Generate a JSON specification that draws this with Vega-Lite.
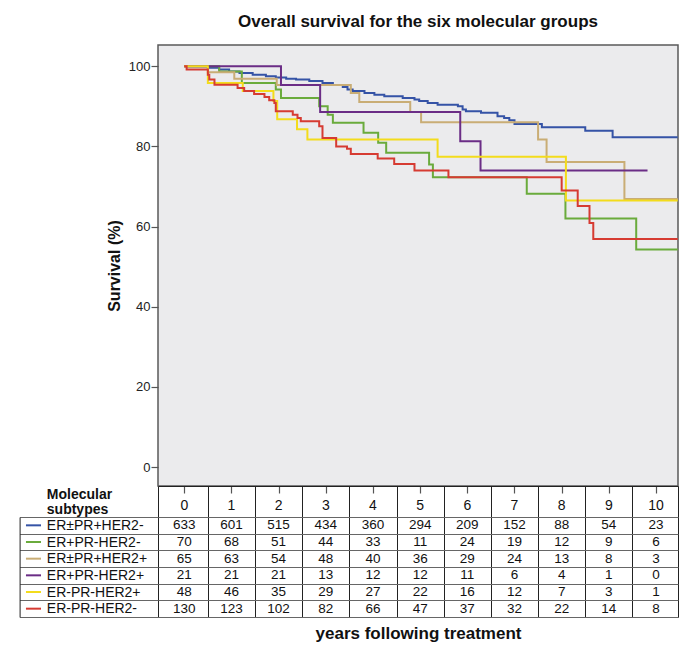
{
  "$schema": "https://vega.github.io/schema/vega-lite/v6.json",
  "padding": {"left": 18, "top": 12, "right": 9, "bottom": 0},
  "background": "white",
  "config": {
    "font": "Liberation Sans",
    "view": {"stroke": null}
  },
  "datasets": {
    "curves": [
      {"group": "ER±PR+HER2-", "year": 0, "survival": 100},
      {"group": "ER±PR+HER2-", "year": 0.5, "survival": 99.6},
      {"group": "ER±PR+HER2-", "year": 0.74, "survival": 99.2},
      {"group": "ER±PR+HER2-", "year": 0.95, "survival": 98.7},
      {"group": "ER±PR+HER2-", "year": 1.17, "survival": 98.3},
      {"group": "ER±PR+HER2-", "year": 1.45, "survival": 97.9},
      {"group": "ER±PR+HER2-", "year": 1.73, "survival": 97.5},
      {"group": "ER±PR+HER2-", "year": 1.94, "survival": 97.2},
      {"group": "ER±PR+HER2-", "year": 2.16, "survival": 96.9},
      {"group": "ER±PR+HER2-", "year": 2.37, "survival": 96.7},
      {"group": "ER±PR+HER2-", "year": 2.65, "survival": 96.3},
      {"group": "ER±PR+HER2-", "year": 2.93, "survival": 95.8},
      {"group": "ER±PR+HER2-", "year": 3.15, "survival": 95.3},
      {"group": "ER±PR+HER2-", "year": 3.36, "survival": 94.8},
      {"group": "ER±PR+HER2-", "year": 3.46, "survival": 94.2},
      {"group": "ER±PR+HER2-", "year": 3.57, "survival": 93.8},
      {"group": "ER±PR+HER2-", "year": 3.82, "survival": 93.3},
      {"group": "ER±PR+HER2-", "year": 4.03, "survival": 92.9},
      {"group": "ER±PR+HER2-", "year": 4.24, "survival": 92.5},
      {"group": "ER±PR+HER2-", "year": 4.63, "survival": 92.1},
      {"group": "ER±PR+HER2-", "year": 4.88, "survival": 91.7},
      {"group": "ER±PR+HER2-", "year": 4.98, "survival": 91.3},
      {"group": "ER±PR+HER2-", "year": 5.16, "survival": 90.8},
      {"group": "ER±PR+HER2-", "year": 5.37, "survival": 90.4},
      {"group": "ER±PR+HER2-", "year": 5.8, "survival": 90.0},
      {"group": "ER±PR+HER2-", "year": 5.9, "survival": 89.2},
      {"group": "ER±PR+HER2-", "year": 5.97, "survival": 88.8},
      {"group": "ER±PR+HER2-", "year": 6.29, "survival": 88.4},
      {"group": "ER±PR+HER2-", "year": 6.64, "survival": 87.5},
      {"group": "ER±PR+HER2-", "year": 6.78, "survival": 87.1},
      {"group": "ER±PR+HER2-", "year": 6.89, "survival": 86.5},
      {"group": "ER±PR+HER2-", "year": 7.0, "survival": 85.6},
      {"group": "ER±PR+HER2-", "year": 7.58, "survival": 84.8},
      {"group": "ER±PR+HER2-", "year": 8.5, "survival": 83.9},
      {"group": "ER±PR+HER2-", "year": 9.08, "survival": 82.3},
      {"group": "ER±PR+HER2-", "year": 10.46, "survival": 82.3},

      {"group": "ER+PR-HER2-", "year": 0, "survival": 100},
      {"group": "ER+PR-HER2-", "year": 0.74, "survival": 98.7},
      {"group": "ER+PR-HER2-", "year": 1.22, "survival": 95.8},
      {"group": "ER+PR-HER2-", "year": 1.94, "survival": 94.2},
      {"group": "ER+PR-HER2-", "year": 2.05, "survival": 92.1},
      {"group": "ER+PR-HER2-", "year": 2.86, "survival": 90.0},
      {"group": "ER+PR-HER2-", "year": 3.04, "survival": 87.9},
      {"group": "ER+PR-HER2-", "year": 3.15, "survival": 85.9},
      {"group": "ER+PR-HER2-", "year": 3.8, "survival": 83.4},
      {"group": "ER+PR-HER2-", "year": 4.11, "survival": 80.9},
      {"group": "ER+PR-HER2-", "year": 4.28, "survival": 78.4},
      {"group": "ER+PR-HER2-", "year": 5.19, "survival": 75.5},
      {"group": "ER+PR-HER2-", "year": 5.27, "survival": 72.3},
      {"group": "ER+PR-HER2-", "year": 7.26, "survival": 68.2},
      {"group": "ER+PR-HER2-", "year": 8.08, "survival": 62.0},
      {"group": "ER+PR-HER2-", "year": 9.58, "survival": 54.3},
      {"group": "ER+PR-HER2-", "year": 10.46, "survival": 54.3},

      {"group": "ER±PR+HER2+", "year": 0, "survival": 100},
      {"group": "ER±PR+HER2+", "year": 0.5, "survival": 98.5},
      {"group": "ER±PR+HER2+", "year": 1.06, "survival": 96.9},
      {"group": "ER±PR+HER2+", "year": 1.96, "survival": 95.3},
      {"group": "ER±PR+HER2+", "year": 3.53, "survival": 93.3},
      {"group": "ER±PR+HER2+", "year": 3.71, "survival": 91.1},
      {"group": "ER±PR+HER2+", "year": 4.79, "survival": 88.6},
      {"group": "ER±PR+HER2+", "year": 5.02, "survival": 86.0},
      {"group": "ER±PR+HER2+", "year": 7.5, "survival": 81.7},
      {"group": "ER±PR+HER2+", "year": 7.68, "survival": 76.1},
      {"group": "ER±PR+HER2+", "year": 9.33, "survival": 66.9},
      {"group": "ER±PR+HER2+", "year": 10.46, "survival": 66.9},

      {"group": "ER+PR-HER2+", "year": 0, "survival": 100},
      {"group": "ER+PR-HER2+", "year": 2.05, "survival": 95.3},
      {"group": "ER+PR-HER2+", "year": 2.88, "survival": 88.6},
      {"group": "ER+PR-HER2+", "year": 5.85, "survival": 81.3},
      {"group": "ER+PR-HER2+", "year": 6.28, "survival": 74.0},
      {"group": "ER+PR-HER2+", "year": 9.82, "survival": 74.0},

      {"group": "ER-PR-HER2+", "year": 0, "survival": 100},
      {"group": "ER-PR-HER2+", "year": 0.5, "survival": 95.8},
      {"group": "ER-PR-HER2+", "year": 1.24, "survival": 93.8},
      {"group": "ER-PR-HER2+", "year": 1.89, "survival": 91.3},
      {"group": "ER-PR-HER2+", "year": 1.97, "survival": 86.8},
      {"group": "ER-PR-HER2+", "year": 2.39, "survival": 84.3},
      {"group": "ER-PR-HER2+", "year": 2.61, "survival": 81.7},
      {"group": "ER-PR-HER2+", "year": 5.37, "survival": 77.4},
      {"group": "ER-PR-HER2+", "year": 8.09, "survival": 66.5},
      {"group": "ER-PR-HER2+", "year": 10.46, "survival": 66.5},

      {"group": "ER-PR-HER2-", "year": 0, "survival": 100},
      {"group": "ER-PR-HER2-", "year": 0.05, "survival": 99.2},
      {"group": "ER-PR-HER2-", "year": 0.5, "survival": 97.9},
      {"group": "ER-PR-HER2-", "year": 0.53, "survival": 96.7},
      {"group": "ER-PR-HER2-", "year": 0.64, "survival": 95.4},
      {"group": "ER-PR-HER2-", "year": 1.13, "survival": 94.6},
      {"group": "ER-PR-HER2-", "year": 1.27, "survival": 93.8},
      {"group": "ER-PR-HER2-", "year": 1.48, "survival": 93.1},
      {"group": "ER-PR-HER2-", "year": 1.7, "survival": 92.3},
      {"group": "ER-PR-HER2-", "year": 1.8, "survival": 91.5},
      {"group": "ER-PR-HER2-", "year": 1.91, "survival": 90.8},
      {"group": "ER-PR-HER2-", "year": 1.94, "survival": 88.8},
      {"group": "ER-PR-HER2-", "year": 2.3, "survival": 87.9},
      {"group": "ER-PR-HER2-", "year": 2.4, "survival": 87.1},
      {"group": "ER-PR-HER2-", "year": 2.47, "survival": 86.3},
      {"group": "ER-PR-HER2-", "year": 2.86, "survival": 85.0},
      {"group": "ER-PR-HER2-", "year": 2.93, "survival": 82.1},
      {"group": "ER-PR-HER2-", "year": 3.22, "survival": 80.0},
      {"group": "ER-PR-HER2-", "year": 3.45, "survival": 79.4},
      {"group": "ER-PR-HER2-", "year": 3.53, "survival": 78.1},
      {"group": "ER-PR-HER2-", "year": 4.1, "survival": 77.0},
      {"group": "ER-PR-HER2-", "year": 4.45, "survival": 75.6},
      {"group": "ER-PR-HER2-", "year": 4.88, "survival": 74.0},
      {"group": "ER-PR-HER2-", "year": 5.6, "survival": 72.3},
      {"group": "ER-PR-HER2-", "year": 8.0, "survival": 69.0},
      {"group": "ER-PR-HER2-", "year": 8.34, "survival": 65.1},
      {"group": "ER-PR-HER2-", "year": 8.59, "survival": 60.9},
      {"group": "ER-PR-HER2-", "year": 8.67, "survival": 56.9},
      {"group": "ER-PR-HER2-", "year": 10.46, "survival": 56.9}
    ],
    "atrisk": [
      {"group": "ER±PR+HER2-", "year": 0, "n": 633}, {"group": "ER±PR+HER2-", "year": 1, "n": 601}, {"group": "ER±PR+HER2-", "year": 2, "n": 515}, {"group": "ER±PR+HER2-", "year": 3, "n": 434}, {"group": "ER±PR+HER2-", "year": 4, "n": 360}, {"group": "ER±PR+HER2-", "year": 5, "n": 294}, {"group": "ER±PR+HER2-", "year": 6, "n": 209}, {"group": "ER±PR+HER2-", "year": 7, "n": 152}, {"group": "ER±PR+HER2-", "year": 8, "n": 88}, {"group": "ER±PR+HER2-", "year": 9, "n": 54}, {"group": "ER±PR+HER2-", "year": 10, "n": 23},
      {"group": "ER+PR-HER2-", "year": 0, "n": 70}, {"group": "ER+PR-HER2-", "year": 1, "n": 68}, {"group": "ER+PR-HER2-", "year": 2, "n": 51}, {"group": "ER+PR-HER2-", "year": 3, "n": 44}, {"group": "ER+PR-HER2-", "year": 4, "n": 33}, {"group": "ER+PR-HER2-", "year": 5, "n": 11}, {"group": "ER+PR-HER2-", "year": 6, "n": 24}, {"group": "ER+PR-HER2-", "year": 7, "n": 19}, {"group": "ER+PR-HER2-", "year": 8, "n": 12}, {"group": "ER+PR-HER2-", "year": 9, "n": 9}, {"group": "ER+PR-HER2-", "year": 10, "n": 6},
      {"group": "ER±PR+HER2+", "year": 0, "n": 65}, {"group": "ER±PR+HER2+", "year": 1, "n": 63}, {"group": "ER±PR+HER2+", "year": 2, "n": 54}, {"group": "ER±PR+HER2+", "year": 3, "n": 48}, {"group": "ER±PR+HER2+", "year": 4, "n": 40}, {"group": "ER±PR+HER2+", "year": 5, "n": 36}, {"group": "ER±PR+HER2+", "year": 6, "n": 29}, {"group": "ER±PR+HER2+", "year": 7, "n": 24}, {"group": "ER±PR+HER2+", "year": 8, "n": 13}, {"group": "ER±PR+HER2+", "year": 9, "n": 8}, {"group": "ER±PR+HER2+", "year": 10, "n": 3},
      {"group": "ER+PR-HER2+", "year": 0, "n": 21}, {"group": "ER+PR-HER2+", "year": 1, "n": 21}, {"group": "ER+PR-HER2+", "year": 2, "n": 21}, {"group": "ER+PR-HER2+", "year": 3, "n": 13}, {"group": "ER+PR-HER2+", "year": 4, "n": 12}, {"group": "ER+PR-HER2+", "year": 5, "n": 12}, {"group": "ER+PR-HER2+", "year": 6, "n": 11}, {"group": "ER+PR-HER2+", "year": 7, "n": 6}, {"group": "ER+PR-HER2+", "year": 8, "n": 4}, {"group": "ER+PR-HER2+", "year": 9, "n": 1}, {"group": "ER+PR-HER2+", "year": 10, "n": 0},
      {"group": "ER-PR-HER2+", "year": 0, "n": 48}, {"group": "ER-PR-HER2+", "year": 1, "n": 46}, {"group": "ER-PR-HER2+", "year": 2, "n": 35}, {"group": "ER-PR-HER2+", "year": 3, "n": 29}, {"group": "ER-PR-HER2+", "year": 4, "n": 27}, {"group": "ER-PR-HER2+", "year": 5, "n": 22}, {"group": "ER-PR-HER2+", "year": 6, "n": 16}, {"group": "ER-PR-HER2+", "year": 7, "n": 12}, {"group": "ER-PR-HER2+", "year": 8, "n": 7}, {"group": "ER-PR-HER2+", "year": 9, "n": 3}, {"group": "ER-PR-HER2+", "year": 10, "n": 1},
      {"group": "ER-PR-HER2-", "year": 0, "n": 130}, {"group": "ER-PR-HER2-", "year": 1, "n": 123}, {"group": "ER-PR-HER2-", "year": 2, "n": 102}, {"group": "ER-PR-HER2-", "year": 3, "n": 82}, {"group": "ER-PR-HER2-", "year": 4, "n": 66}, {"group": "ER-PR-HER2-", "year": 5, "n": 47}, {"group": "ER-PR-HER2-", "year": 6, "n": 37}, {"group": "ER-PR-HER2-", "year": 7, "n": 32}, {"group": "ER-PR-HER2-", "year": 8, "n": 22}, {"group": "ER-PR-HER2-", "year": 9, "n": 14}, {"group": "ER-PR-HER2-", "year": 10, "n": 8}
    ]
  },
  "spacing": 0,
  "bounds": "flush",
  "resolve": {"scale": {"x": "independent", "y": "independent"}},
  "vconcat": [
    {
      "width": 520,
      "height": 441,
      "title": {"text": "Overall survival for the six molecular groups", "fontSize": 17, "fontWeight": "bold", "color": "#111", "frame": "group", "anchor": "middle", "offset": 14},
      "view": {"fill": "#ebebed", "stroke": "#5a5a5a", "strokeWidth": 1.5},
      "data": {"name": "curves"},
      "mark": {"type": "line", "interpolate": "step-after", "strokeWidth": 2, "clip": true},
      "encoding": {
        "x": {
          "field": "year", "type": "quantitative",
          "scale": {"domain": [-0.557, 10.466], "nice": false, "zero": false},
          "axis": {"values": [0,1,2,3,4,5,6,7,8,9,10], "labels": false, "domain": false, "grid": false, "tickSize": 7, "tickColor": "#555", "tickWidth": 1.2, "title": null}
        },
        "y": {
          "field": "survival", "type": "quantitative",
          "scale": {"domain": [-4.74, 105.3], "nice": false, "zero": false},
          "axis": {"values": [0,20,40,60,80,100], "domain": false, "grid": false, "tickSize": 7, "tickColor": "#555", "tickWidth": 1.2, "labelFontSize": 13, "labelColor": "#222", "labelPadding": 1, "title": "Survival (%)", "titleFontSize": 16, "titleFontWeight": "bold", "titleColor": "#111", "titlePadding": 6}
        },
        "color": {
          "field": "group", "type": "nominal",
          "scale": {"domain": ["ER±PR+HER2-", "ER+PR-HER2-", "ER±PR+HER2+", "ER+PR-HER2+", "ER-PR-HER2+", "ER-PR-HER2-"], "range": ["#3553a6", "#6aab3c", "#c9ad75", "#6b2d86", "#f3dc1c", "#d63b32"]},
          "legend": null
        }
      }
    },
    {
      "width": 520,
      "height": 31,
      "view": {"stroke": "#222", "strokeWidth": 1},
      "data": {"name": "atrisk"},
      "transform": [{"filter": "datum.group === 'ER±PR+HER2-'"}],
      "mark": {"type": "text", "fontSize": 14, "color": "#111", "dy": 4.5},
      "encoding": {
        "x": {
          "field": "year", "type": "quantitative",
          "scale": {"domain": [-0.557, 10.466], "nice": false, "zero": false},
          "axis": {"values": [0.5,1.5,2.5,3.5,4.5,5.5,6.5,7.5,8.5,9.5], "grid": true, "gridColor": "#222", "gridOpacity": 1, "ticks": false, "labels": false, "domain": false, "title": null}
        },
        "y": {
          "datum": "Molecular subtypes", "type": "nominal",
          "axis": {"title": null, "ticks": false, "domain": false, "labelExpr": "split(datum.label, ' ')", "labelFontSize": 14, "labelFontWeight": "bold", "labelColor": "#111", "labelAlign": "left", "labelBaseline": "middle", "labelPadding": 111.7, "labelOffset": -7, "labelLineHeight": 14.5, "labelLimit": 0}
        },
        "text": {"field": "year", "type": "quantitative"}
      }
    },
    {
      "width": 520,
      "height": 100,
      "view": {"stroke": "#222", "strokeWidth": 1},
      "data": {"name": "atrisk"},
      "encoding": {
        "y": {
          "field": "group", "type": "nominal",
          "sort": ["ER±PR+HER2-", "ER+PR-HER2-", "ER±PR+HER2+", "ER+PR-HER2+", "ER-PR-HER2+", "ER-PR-HER2-"],
          "scale": {"type": "band", "paddingInner": 0, "paddingOuter": 0},
          "axis": {"title": null, "offset": 138.4, "tickBand": "extent", "tickSize": -138.4, "tickColor": "#666", "domainColor": "#222", "grid": true, "gridColor": "#666", "gridOpacity": 1, "labelAlign": "left", "labelBaseline": "middle", "labelPadding": 111.7, "labelFontSize": 14, "labelColor": "#111", "labelLimit": 0}
        }
      },
      "layer": [
        {
          "mark": {"type": "text", "fontSize": 13.5, "color": "#111"},
          "encoding": {
            "x": {
              "field": "year", "type": "quantitative",
              "scale": {"domain": [-0.557, 10.466], "nice": false, "zero": false},
              "axis": {"values": [0.5,1.5,2.5,3.5,4.5,5.5,6.5,7.5,8.5,9.5], "grid": true, "gridColor": "#222", "gridOpacity": 1, "ticks": false, "labels": false, "domain": false, "title": "years following treatment", "titleFontSize": 17, "titleFontWeight": "bold", "titleColor": "#111", "titlePadding": 8}
            },
            "text": {"field": "n", "type": "quantitative"}
          }
        },
        {
          "transform": [{"filter": "datum.year === 0"}],
          "mark": {"type": "rule", "strokeWidth": 2, "clip": false},
          "encoding": {
            "x": {"datum": -3.356},
            "x2": {"datum": -3.037},
            "color": {
              "field": "group", "type": "nominal",
              "scale": {"domain": ["ER±PR+HER2-", "ER+PR-HER2-", "ER±PR+HER2+", "ER+PR-HER2+", "ER-PR-HER2+", "ER-PR-HER2-"], "range": ["#3553a6", "#6aab3c", "#c9ad75", "#6b2d86", "#f3dc1c", "#d63b32"]},
              "legend": null
            }
          }
        }
      ]
    }
  ]
}
